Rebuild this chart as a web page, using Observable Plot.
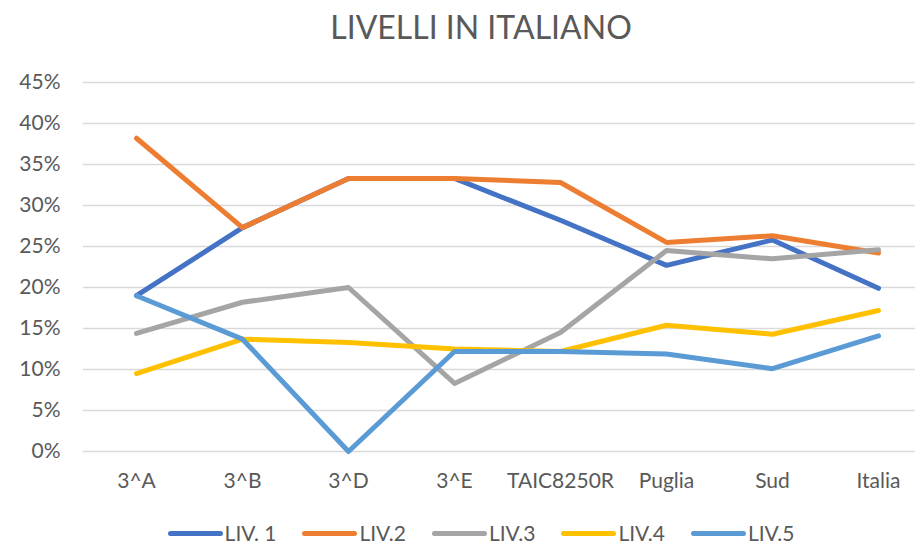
<!DOCTYPE html>
<html>
<head>
<meta charset="utf-8">
<script src="https://cdn.jsdelivr.net/npm/d3@7"></script>
<script src="https://cdn.jsdelivr.net/npm/@observablehq/plot@0.6"></script>
<style>
  html, body { margin: 0; padding: 0; background: #fff; overflow: hidden; }
  #wrap { position: relative; width: 962px; height: 544px; font-family: Lato, "Open Sans", sans-serif; color: #595959; }
  #title { position: absolute; left: 0; top: 1px; width: 962px; text-align: center; font-size: 32px; line-height: 52px; }
  #chart { position: absolute; left: 0; top: 60px; }
  #legend { position: absolute; left: 0; top: 523px; width: 962px; height: 20px; display: flex; justify-content: center; align-items: center; gap: 26px; font-size: 21px; line-height: 20px; }
  .item { display: flex; align-items: center; gap: 2px; }
  .sw { width: 55px; height: 5px; border-radius: 3px; }
</style>
</head>
<body>
<div id="wrap">
  <div id="title">LIVELLI IN ITALIANO</div>
  <div id="chart"></div>
  <div id="legend"></div>
</div>
<script>
const categories = ["3^A", "3^B", "3^D", "3^E", "TAIC8250R", "Puglia", "Sud", "Italia"];
const seriesNames = ["LIV. 1", "LIV.2", "LIV.3", "LIV.4", "LIV.5"];
const seriesColors = ["#4472C4", "#ED7D31", "#A5A5A5", "#FFC000", "#5B9BD5"];
const liv1 = [0.190, 0.273, 0.333, 0.333, 0.282, 0.227, 0.258, 0.199];
const liv2 = [0.382, 0.273, 0.333, 0.333, 0.328, 0.255, 0.263, 0.242];
const liv3 = [0.144, 0.182, 0.200, 0.083, 0.145, 0.245, 0.235, 0.246];
const liv4 = [0.095, 0.137, 0.133, 0.125, 0.122, 0.154, 0.143, 0.172];
const liv5 = [0.190, 0.137, 0.000, 0.122, 0.122, 0.119, 0.101, 0.141];
const yTicks = [0, 0.05, 0.10, 0.15, 0.20, 0.25, 0.30, 0.35, 0.40, 0.45];

const allSeries = [liv1, liv2, liv3, liv4, liv5];
const data = [];
allSeries.forEach((vals, s) => vals.forEach((v, i) => data.push({ series: seriesNames[s], cat: categories[i], value: v })));

const chart = Plot.plot({
  width: 962,
  height: 450,
  marginLeft: 83,
  marginRight: 31,
  marginTop: 22,
  marginBottom: 59,
  style: { fontFamily: "Lato, 'Open Sans', sans-serif", fontSize: "21px", color: "#595959", background: "#fff" },
  x: { type: "point", domain: categories, padding: 0.5, label: null },
  y: { domain: [0, 0.45], label: null },
  color: { domain: seriesNames, range: seriesColors },
  marks: [
    Plot.gridY(yTicks, { stroke: "#D9D9D9", strokeOpacity: 1, strokeWidth: 1.5 }),
    Plot.axisY(yTicks, { tickSize: 0, tickPadding: 23, tickFormat: d3.format(".0%"), label: null, fill: "#595959" }),
    Plot.axisX({ tickSize: 0, tickPadding: 22, label: null, fill: "#595959" }),
    Plot.line(data, { x: "cat", y: "value", z: "series", stroke: "series", strokeWidth: 5, strokeLinecap: "round", strokeLinejoin: "round" })
  ]
});
document.getElementById("chart").appendChild(chart);

const legend = document.getElementById("legend");
seriesNames.forEach((name, i) => {
  const item = document.createElement("div");
  item.className = "item";
  const sw = document.createElement("div");
  sw.className = "sw";
  sw.style.background = seriesColors[i];
  const lab = document.createElement("span");
  lab.textContent = name;
  item.appendChild(sw);
  item.appendChild(lab);
  legend.appendChild(item);
});
</script>
</body>
</html>
